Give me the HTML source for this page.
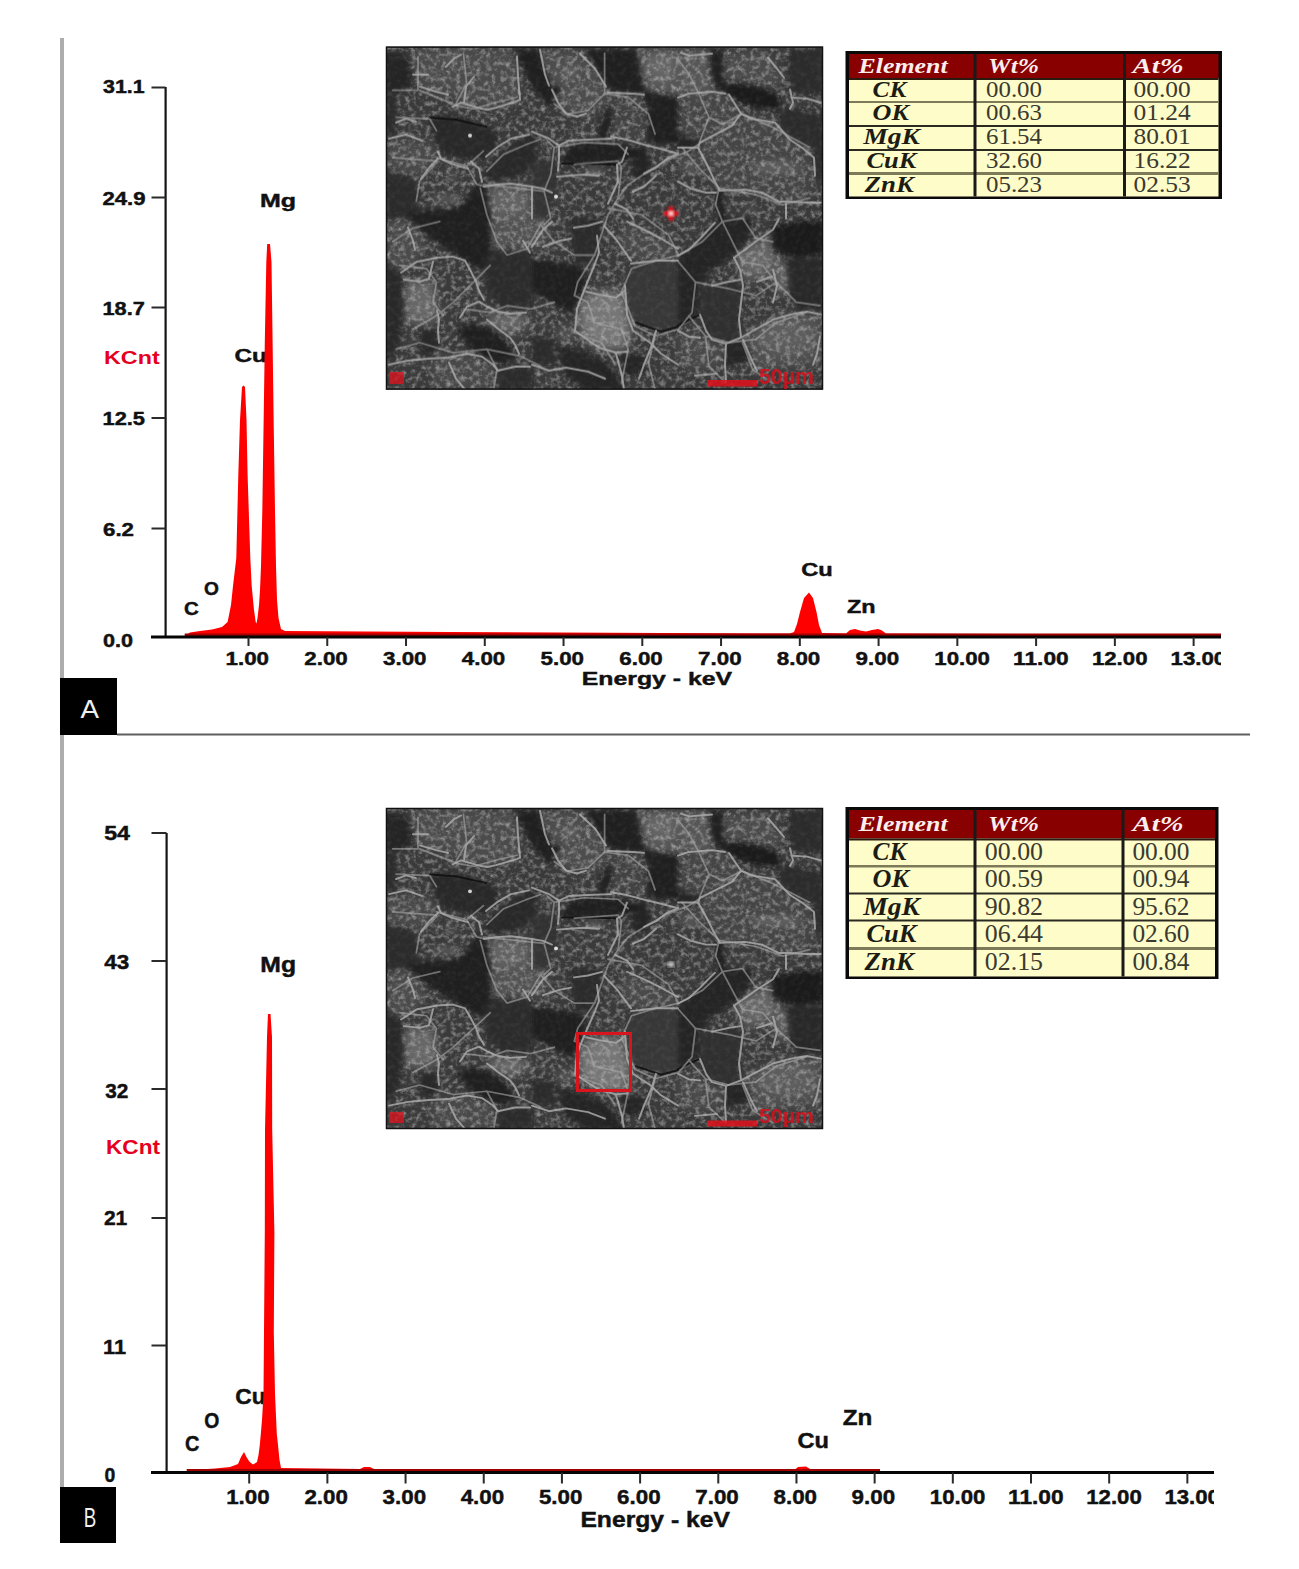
<!DOCTYPE html>
<html><head><meta charset="utf-8"><title>EDS spectra</title>
<style>
html,body{margin:0;padding:0;background:#fff;}
body{width:1299px;height:1569px;overflow:hidden;font-family:"Liberation Sans",sans-serif;}
svg{display:block;}
</style></head>
<body>
<svg width="1299" height="1569" viewBox="0 0 1299 1569">
<defs>
<filter id="sblur2" x="-5%" y="-5%" width="110%" height="110%"><feGaussianBlur stdDeviation="4"/></filter>
<filter id="sblur1" x="-5%" y="-5%" width="110%" height="110%"><feGaussianBlur stdDeviation="2.2"/></filter>
<filter id="sblur05" x="-5%" y="-5%" width="110%" height="110%"><feGaussianBlur stdDeviation="0.7"/></filter>
<filter id="snoise" x="0" y="0" width="437" height="343" filterUnits="userSpaceOnUse">
  <feTurbulence type="fractalNoise" baseFrequency="0.2" numOctaves="3" seed="5"/>
  <feColorMatrix type="matrix" values="0 0 0 0 1  0 0 0 0 1  0 0 0 0 1  2.2 0 0 0 -0.95"/>
  <feGaussianBlur stdDeviation="0.7"/>
</filter>
<filter id="rblur" x="-50%" y="-50%" width="200%" height="200%"><feGaussianBlur stdDeviation="0.8"/></filter></defs>
<rect x="0" y="0" width="1299" height="1569" fill="#fff"/>
<rect x="60" y="38" width="4" height="1505" fill="#adadad"/>
<rect x="60" y="678" width="57" height="57" fill="#000"/>
<rect x="117" y="733.5" width="1133" height="2" fill="#5e5e5e"/>
<rect x="60" y="1487" width="56" height="56" fill="#000"/>
<text x="80.5" y="717.7" font-family='"Liberation Sans", sans-serif' font-size="26" font-weight="normal" font-style="normal" fill="#f0f0f0" textLength="18.5" lengthAdjust="spacingAndGlyphs">A</text>
<text x="83.8" y="1527.4" font-family='"Liberation Sans", sans-serif' font-size="27.5" font-weight="normal" font-style="normal" fill="#f0f0f0" textLength="12.5" lengthAdjust="spacingAndGlyphs">B</text>
<text x="234.5" y="361.8" font-family='"Liberation Sans", sans-serif' font-size="19" font-weight="bold" font-style="normal" fill="#111" stroke="#111" stroke-width="0.45" textLength="32.3" lengthAdjust="spacingAndGlyphs">Cu</text>
<polygon points="184.7,636.0 190.0,632.5 200.0,631.0 212.0,629.5 222.0,627.0 227.6,622.0 231.0,605.0 233.0,586.0 236.3,558.0 238.3,475.0 240.0,420.0 242.0,387.0 243.6,385.5 245.0,387.0 246.5,420.0 247.6,475.0 250.3,558.0 251.7,586.0 254.0,610.0 255.7,622.0 256.5,623.5 257.5,618.0 259.0,605.0 260.0,590.0 261.0,566.0 262.3,511.0 263.5,430.0 264.8,342.0 266.3,262.0 267.2,244.0 270.0,244.0 271.5,262.0 272.6,342.0 273.8,430.0 275.0,511.0 276.0,566.0 277.0,600.0 278.5,618.0 281.0,629.0 285.0,631.0 450.0,632.0 790.0,633.5 794.0,632.0 797.0,624.0 800.0,612.0 804.0,598.0 809.0,592.5 813.0,598.0 816.5,612.0 819.0,625.0 822.0,633.0 846.0,633.5 850.0,630.0 855.0,629.0 860.0,630.5 866.0,631.5 872.0,630.0 878.0,629.0 882.0,630.5 886.0,633.5 1221.0,634.5 1221.0,637.0 184.7,637.0" fill="#ff0000"/>
<rect x="184.7" y="633.5" width="1036.3" height="2.5" fill="#a00000"/>
<rect x="164.5" y="87" width="2.2" height="551" fill="#151515"/>
<rect x="151.5" y="86.5" width="14.0" height="2" fill="#2a2a2a"/>
<rect x="151.5" y="196.5" width="14.0" height="2" fill="#2a2a2a"/>
<rect x="151.5" y="306.5" width="14.0" height="2" fill="#2a2a2a"/>
<rect x="151.5" y="417" width="14.0" height="2" fill="#2a2a2a"/>
<rect x="151.5" y="527.5" width="14.0" height="2" fill="#2a2a2a"/>
<rect x="151" y="635.5" width="1070" height="3" fill="#050505"/>
<text x="103.0" y="93.0" font-family='"Liberation Sans", sans-serif' font-size="18" font-weight="bold" font-style="normal" fill="#111" stroke="#111" stroke-width="0.45" textLength="41.6" lengthAdjust="spacingAndGlyphs">31.1</text>
<text x="102.5" y="205.0" font-family='"Liberation Sans", sans-serif' font-size="18" font-weight="bold" font-style="normal" fill="#111" stroke="#111" stroke-width="0.45" textLength="43.1" lengthAdjust="spacingAndGlyphs">24.9</text>
<text x="102.5" y="315.0" font-family='"Liberation Sans", sans-serif' font-size="18" font-weight="bold" font-style="normal" fill="#111" stroke="#111" stroke-width="0.45" textLength="42.3" lengthAdjust="spacingAndGlyphs">18.7</text>
<text x="102.5" y="424.6" font-family='"Liberation Sans", sans-serif' font-size="18" font-weight="bold" font-style="normal" fill="#111" stroke="#111" stroke-width="0.45" textLength="42.5" lengthAdjust="spacingAndGlyphs">12.5</text>
<text x="103.0" y="535.5" font-family='"Liberation Sans", sans-serif' font-size="18" font-weight="bold" font-style="normal" fill="#111" stroke="#111" stroke-width="0.45" textLength="31.0" lengthAdjust="spacingAndGlyphs">6.2</text>
<text x="103.0" y="647.0" font-family='"Liberation Sans", sans-serif' font-size="18" font-weight="bold" font-style="normal" fill="#111" stroke="#111" stroke-width="0.45" textLength="30.0" lengthAdjust="spacingAndGlyphs">0.0</text>
<rect x="247.5" y="637" width="2" height="9" fill="#2a2a2a"/>
<text x="225.5" y="664.6" font-family='"Liberation Sans", sans-serif' font-size="18" font-weight="bold" font-style="normal" fill="#111" stroke="#111" stroke-width="0.45" textLength="43.5" lengthAdjust="spacingAndGlyphs">1.00</text>
<rect x="326.26" y="637" width="2" height="9" fill="#2a2a2a"/>
<text x="304.3" y="664.6" font-family='"Liberation Sans", sans-serif' font-size="18" font-weight="bold" font-style="normal" fill="#111" stroke="#111" stroke-width="0.45" textLength="43.5" lengthAdjust="spacingAndGlyphs">2.00</text>
<rect x="405.02" y="637" width="2" height="9" fill="#2a2a2a"/>
<text x="383.0" y="664.6" font-family='"Liberation Sans", sans-serif' font-size="18" font-weight="bold" font-style="normal" fill="#111" stroke="#111" stroke-width="0.45" textLength="43.5" lengthAdjust="spacingAndGlyphs">3.00</text>
<rect x="483.78000000000003" y="637" width="2" height="9" fill="#2a2a2a"/>
<text x="461.8" y="664.6" font-family='"Liberation Sans", sans-serif' font-size="18" font-weight="bold" font-style="normal" fill="#111" stroke="#111" stroke-width="0.45" textLength="43.5" lengthAdjust="spacingAndGlyphs">4.00</text>
<rect x="562.54" y="637" width="2" height="9" fill="#2a2a2a"/>
<text x="540.5" y="664.6" font-family='"Liberation Sans", sans-serif' font-size="18" font-weight="bold" font-style="normal" fill="#111" stroke="#111" stroke-width="0.45" textLength="43.5" lengthAdjust="spacingAndGlyphs">5.00</text>
<rect x="641.3" y="637" width="2" height="9" fill="#2a2a2a"/>
<text x="619.3" y="664.6" font-family='"Liberation Sans", sans-serif' font-size="18" font-weight="bold" font-style="normal" fill="#111" stroke="#111" stroke-width="0.45" textLength="43.5" lengthAdjust="spacingAndGlyphs">6.00</text>
<rect x="720.0600000000001" y="637" width="2" height="9" fill="#2a2a2a"/>
<text x="698.1" y="664.6" font-family='"Liberation Sans", sans-serif' font-size="18" font-weight="bold" font-style="normal" fill="#111" stroke="#111" stroke-width="0.45" textLength="43.5" lengthAdjust="spacingAndGlyphs">7.00</text>
<rect x="798.82" y="637" width="2" height="9" fill="#2a2a2a"/>
<text x="776.8" y="664.6" font-family='"Liberation Sans", sans-serif' font-size="18" font-weight="bold" font-style="normal" fill="#111" stroke="#111" stroke-width="0.45" textLength="43.5" lengthAdjust="spacingAndGlyphs">8.00</text>
<rect x="877.58" y="637" width="2" height="9" fill="#2a2a2a"/>
<text x="855.6" y="664.6" font-family='"Liberation Sans", sans-serif' font-size="18" font-weight="bold" font-style="normal" fill="#111" stroke="#111" stroke-width="0.45" textLength="43.5" lengthAdjust="spacingAndGlyphs">9.00</text>
<rect x="956.34" y="637" width="2" height="9" fill="#2a2a2a"/>
<text x="934.3" y="664.6" font-family='"Liberation Sans", sans-serif' font-size="18" font-weight="bold" font-style="normal" fill="#111" stroke="#111" stroke-width="0.45" textLength="55.6" lengthAdjust="spacingAndGlyphs">10.00</text>
<rect x="1035.1" y="637" width="2" height="9" fill="#2a2a2a"/>
<text x="1013.1" y="664.6" font-family='"Liberation Sans", sans-serif' font-size="18" font-weight="bold" font-style="normal" fill="#111" stroke="#111" stroke-width="0.45" textLength="55.6" lengthAdjust="spacingAndGlyphs">11.00</text>
<rect x="1113.8600000000001" y="637" width="2" height="9" fill="#2a2a2a"/>
<text x="1091.9" y="664.6" font-family='"Liberation Sans", sans-serif' font-size="18" font-weight="bold" font-style="normal" fill="#111" stroke="#111" stroke-width="0.45" textLength="55.6" lengthAdjust="spacingAndGlyphs">12.00</text>
<rect x="1192.6200000000001" y="637" width="2" height="9" fill="#2a2a2a"/>
<svg x="0" y="0" width="1221" height="1569" overflow="hidden">
<text x="1170.6" y="664.6" font-family='"Liberation Sans", sans-serif' font-size="18" font-weight="bold" font-style="normal" fill="#111" stroke="#111" stroke-width="0.45" textLength="55.6" lengthAdjust="spacingAndGlyphs">13.00</text>
</svg>
<text x="581.8" y="685.0" font-family='"Liberation Sans", sans-serif' font-size="19" font-weight="bold" font-style="normal" fill="#111" stroke="#111" stroke-width="0.45" textLength="150.2" lengthAdjust="spacingAndGlyphs">Energy - keV</text>
<text x="104.0" y="364.0" font-family='"Liberation Sans", sans-serif' font-size="18" font-weight="bold" font-style="normal" fill="#e6001e" textLength="55.7" lengthAdjust="spacingAndGlyphs">KCnt</text>
<text x="260.0" y="207.0" font-family='"Liberation Sans", sans-serif' font-size="19" font-weight="bold" font-style="normal" fill="#111" stroke="#111" stroke-width="0.45" textLength="36.0" lengthAdjust="spacingAndGlyphs">Mg</text>
<text x="184.0" y="615.4" font-family='"Liberation Sans", sans-serif' font-size="19" font-weight="bold" font-style="normal" fill="#111" stroke="#111" stroke-width="0.45" textLength="14.8" lengthAdjust="spacingAndGlyphs">C</text>
<text x="204.0" y="595.3" font-family='"Liberation Sans", sans-serif' font-size="19" font-weight="bold" font-style="normal" fill="#111" stroke="#111" stroke-width="0.45" textLength="14.9" lengthAdjust="spacingAndGlyphs">O</text>
<text x="801.2" y="575.9" font-family='"Liberation Sans", sans-serif' font-size="19" font-weight="bold" font-style="normal" fill="#111" stroke="#111" stroke-width="0.45" textLength="31.5" lengthAdjust="spacingAndGlyphs">Cu</text>
<text x="847.0" y="613.3" font-family='"Liberation Sans", sans-serif' font-size="19" font-weight="bold" font-style="normal" fill="#111" stroke="#111" stroke-width="0.45" textLength="28.6" lengthAdjust="spacingAndGlyphs">Zn</text>
<text x="235.3" y="1404.0" font-family='"Liberation Sans", sans-serif' font-size="22" font-weight="bold" font-style="normal" fill="#111" stroke="#111" stroke-width="0.45" textLength="30.3" lengthAdjust="spacingAndGlyphs">Cu</text>
<polygon points="186.7,1472.0 200.0,1469.5 215.0,1468.5 230.0,1467.0 238.0,1464.0 241.0,1457.0 244.0,1452.0 247.0,1458.0 249.7,1462.0 253.0,1464.5 257.0,1462.0 258.5,1455.0 259.8,1445.0 260.8,1434.0 262.0,1420.0 263.5,1394.0 264.0,1332.0 264.8,1232.0 265.0,1130.0 267.0,1037.0 268.0,1014.0 270.5,1014.0 272.0,1037.0 272.2,1130.0 274.4,1232.0 273.8,1332.0 275.0,1394.0 276.8,1434.0 278.0,1445.0 279.5,1460.0 281.0,1468.0 360.0,1469.0 364.0,1467.0 370.0,1467.0 374.0,1469.0 795.0,1469.5 798.0,1467.0 806.0,1466.5 810.0,1469.0 880.0,1469.5 880.0,1472.0 186.7,1472.0" fill="#ff0000"/>
<rect x="186.7" y="1469.0" width="693.3" height="2.5" fill="#a00000"/>
<rect x="165.5" y="833" width="2.2" height="640.5" fill="#151515"/>
<rect x="151.5" y="832" width="15.0" height="2" fill="#2a2a2a"/>
<rect x="151.5" y="960" width="15.0" height="2" fill="#2a2a2a"/>
<rect x="151.5" y="1088" width="15.0" height="2" fill="#2a2a2a"/>
<rect x="151.5" y="1217" width="15.0" height="2" fill="#2a2a2a"/>
<rect x="151.5" y="1344.5" width="15.0" height="2" fill="#2a2a2a"/>
<rect x="151" y="1471.0" width="1063" height="3" fill="#050505"/>
<text x="104.2" y="840.0" font-family='"Liberation Sans", sans-serif' font-size="21" font-weight="bold" font-style="normal" fill="#111" stroke="#111" stroke-width="0.45" textLength="25.8" lengthAdjust="spacingAndGlyphs">54</text>
<text x="104.2" y="969.3" font-family='"Liberation Sans", sans-serif' font-size="21" font-weight="bold" font-style="normal" fill="#111" stroke="#111" stroke-width="0.45" textLength="25.0" lengthAdjust="spacingAndGlyphs">43</text>
<text x="105.2" y="1097.8" font-family='"Liberation Sans", sans-serif' font-size="21" font-weight="bold" font-style="normal" fill="#111" stroke="#111" stroke-width="0.45" textLength="23.1" lengthAdjust="spacingAndGlyphs">32</text>
<text x="103.9" y="1225.2" font-family='"Liberation Sans", sans-serif' font-size="21" font-weight="bold" font-style="normal" fill="#111" stroke="#111" stroke-width="0.45" textLength="23.4" lengthAdjust="spacingAndGlyphs">21</text>
<text x="103.0" y="1354.0" font-family='"Liberation Sans", sans-serif' font-size="21" font-weight="bold" font-style="normal" fill="#111" stroke="#111" stroke-width="0.45" textLength="23.0" lengthAdjust="spacingAndGlyphs">11</text>
<text x="104.6" y="1481.5" font-family='"Liberation Sans", sans-serif' font-size="21" font-weight="bold" font-style="normal" fill="#111" stroke="#111" stroke-width="0.45" textLength="10.8" lengthAdjust="spacingAndGlyphs">0</text>
<rect x="248.2" y="1472.5" width="2" height="11" fill="#2a2a2a"/>
<text x="226.2" y="1504.0" font-family='"Liberation Sans", sans-serif' font-size="21" font-weight="bold" font-style="normal" fill="#111" stroke="#111" stroke-width="0.45" textLength="43.5" lengthAdjust="spacingAndGlyphs">1.00</text>
<rect x="326.38" y="1472.5" width="2" height="11" fill="#2a2a2a"/>
<text x="304.4" y="1504.0" font-family='"Liberation Sans", sans-serif' font-size="21" font-weight="bold" font-style="normal" fill="#111" stroke="#111" stroke-width="0.45" textLength="43.5" lengthAdjust="spacingAndGlyphs">2.00</text>
<rect x="404.56" y="1472.5" width="2" height="11" fill="#2a2a2a"/>
<text x="382.6" y="1504.0" font-family='"Liberation Sans", sans-serif' font-size="21" font-weight="bold" font-style="normal" fill="#111" stroke="#111" stroke-width="0.45" textLength="43.5" lengthAdjust="spacingAndGlyphs">3.00</text>
<rect x="482.74" y="1472.5" width="2" height="11" fill="#2a2a2a"/>
<text x="460.7" y="1504.0" font-family='"Liberation Sans", sans-serif' font-size="21" font-weight="bold" font-style="normal" fill="#111" stroke="#111" stroke-width="0.45" textLength="43.5" lengthAdjust="spacingAndGlyphs">4.00</text>
<rect x="560.9200000000001" y="1472.5" width="2" height="11" fill="#2a2a2a"/>
<text x="538.9" y="1504.0" font-family='"Liberation Sans", sans-serif' font-size="21" font-weight="bold" font-style="normal" fill="#111" stroke="#111" stroke-width="0.45" textLength="43.5" lengthAdjust="spacingAndGlyphs">5.00</text>
<rect x="639.1" y="1472.5" width="2" height="11" fill="#2a2a2a"/>
<text x="617.1" y="1504.0" font-family='"Liberation Sans", sans-serif' font-size="21" font-weight="bold" font-style="normal" fill="#111" stroke="#111" stroke-width="0.45" textLength="43.5" lengthAdjust="spacingAndGlyphs">6.00</text>
<rect x="717.28" y="1472.5" width="2" height="11" fill="#2a2a2a"/>
<text x="695.3" y="1504.0" font-family='"Liberation Sans", sans-serif' font-size="21" font-weight="bold" font-style="normal" fill="#111" stroke="#111" stroke-width="0.45" textLength="43.5" lengthAdjust="spacingAndGlyphs">7.00</text>
<rect x="795.46" y="1472.5" width="2" height="11" fill="#2a2a2a"/>
<text x="773.5" y="1504.0" font-family='"Liberation Sans", sans-serif' font-size="21" font-weight="bold" font-style="normal" fill="#111" stroke="#111" stroke-width="0.45" textLength="43.5" lengthAdjust="spacingAndGlyphs">8.00</text>
<rect x="873.6400000000001" y="1472.5" width="2" height="11" fill="#2a2a2a"/>
<text x="851.6" y="1504.0" font-family='"Liberation Sans", sans-serif' font-size="21" font-weight="bold" font-style="normal" fill="#111" stroke="#111" stroke-width="0.45" textLength="43.5" lengthAdjust="spacingAndGlyphs">9.00</text>
<rect x="951.8200000000002" y="1472.5" width="2" height="11" fill="#2a2a2a"/>
<text x="929.8" y="1504.0" font-family='"Liberation Sans", sans-serif' font-size="21" font-weight="bold" font-style="normal" fill="#111" stroke="#111" stroke-width="0.45" textLength="55.6" lengthAdjust="spacingAndGlyphs">10.00</text>
<rect x="1030.0" y="1472.5" width="2" height="11" fill="#2a2a2a"/>
<text x="1008.0" y="1504.0" font-family='"Liberation Sans", sans-serif' font-size="21" font-weight="bold" font-style="normal" fill="#111" stroke="#111" stroke-width="0.45" textLength="55.6" lengthAdjust="spacingAndGlyphs">11.00</text>
<rect x="1108.18" y="1472.5" width="2" height="11" fill="#2a2a2a"/>
<text x="1086.2" y="1504.0" font-family='"Liberation Sans", sans-serif' font-size="21" font-weight="bold" font-style="normal" fill="#111" stroke="#111" stroke-width="0.45" textLength="55.6" lengthAdjust="spacingAndGlyphs">12.00</text>
<rect x="1186.3600000000001" y="1472.5" width="2" height="11" fill="#2a2a2a"/>
<svg x="0" y="0" width="1214" height="1569" overflow="hidden">
<text x="1164.4" y="1504.0" font-family='"Liberation Sans", sans-serif' font-size="21" font-weight="bold" font-style="normal" fill="#111" stroke="#111" stroke-width="0.45" textLength="55.6" lengthAdjust="spacingAndGlyphs">13.00</text>
</svg>
<text x="580.4" y="1527.1" font-family='"Liberation Sans", sans-serif' font-size="22" font-weight="bold" font-style="normal" fill="#111" stroke="#111" stroke-width="0.45" textLength="149.6" lengthAdjust="spacingAndGlyphs">Energy - keV</text>
<text x="106.0" y="1154.0" font-family='"Liberation Sans", sans-serif' font-size="21" font-weight="bold" font-style="normal" fill="#e6001e" textLength="54.0" lengthAdjust="spacingAndGlyphs">KCnt</text>
<text x="260.3" y="972.3" font-family='"Liberation Sans", sans-serif' font-size="22" font-weight="bold" font-style="normal" fill="#111" stroke="#111" stroke-width="0.45" textLength="35.7" lengthAdjust="spacingAndGlyphs">Mg</text>
<text x="185.1" y="1451.0" font-family='"Liberation Sans", sans-serif' font-size="22" font-weight="bold" font-style="normal" fill="#111" stroke="#111" stroke-width="0.45" textLength="14.4" lengthAdjust="spacingAndGlyphs">C</text>
<text x="204.3" y="1428.0" font-family='"Liberation Sans", sans-serif' font-size="22" font-weight="bold" font-style="normal" fill="#111" stroke="#111" stroke-width="0.45" textLength="15.1" lengthAdjust="spacingAndGlyphs">O</text>
<text x="797.6" y="1448.0" font-family='"Liberation Sans", sans-serif' font-size="22" font-weight="bold" font-style="normal" fill="#111" stroke="#111" stroke-width="0.45" textLength="31.4" lengthAdjust="spacingAndGlyphs">Cu</text>
<text x="842.8" y="1424.5" font-family='"Liberation Sans", sans-serif' font-size="22" font-weight="bold" font-style="normal" fill="#111" stroke="#111" stroke-width="0.45" textLength="29.6" lengthAdjust="spacingAndGlyphs">Zn</text>
<svg x="386" y="46.6" width="437" height="343" viewBox="0 0 437 343" preserveAspectRatio="none">
<rect x="0" y="0" width="437" height="343" fill="#3a3a3a"/>
<g filter="url(#sblur2)">
<polygon points="26,2 128,2 134,30 134,53 110,61 80,57 62,48 34,40 26,25" fill="#4c4c4c"/>
<polygon points="0,92 36,94 48,100 52,112 35,132 0,125" fill="#484848"/>
<polygon points="98,137 158,141 160,200 105,203 104,162" fill="#525252"/>
<polygon points="155,3 194,5 209,22 220,40 222,46 215,62 200,67 180,67 166,43 160,25" fill="#4e4e4e"/>
<polygon points="250,3 324,3 325,25 330,43 326,45 303,47 292,50 275,48 259,45 254,25" fill="#565656"/>
<polygon points="225,46 256,47 262,60 262,96 241,93 225,90 222,70" fill="#424242"/>
<polygon points="337,8 380,5 398,31 390,40 371,38 348,35 337,30" fill="#4c4c4c"/>
<polygon points="292,51 326,45 343,48 355,67 329,88 312,92 292,88" fill="#444"/>
<polygon points="355,67 389,76 404,93 428,111 429,129 421,156 393,155 359,143 334,144 321,118 312,101 329,88" fill="#454545"/>
<polygon points="0,172 28,172 34,183 39,200 31,215 15,226 0,217" fill="#4c4c4c"/>
<polygon points="18,233 34,235 43,232 51,240 53,273 45,280 20,278 15,255" fill="#545454"/>
<polygon points="101,267 140,266 146,280 124,291 112,282 101,273" fill="#545454"/>
<polygon points="43,312 81,307 107,318 112,343 50,343" fill="#4a4a4a"/>
<polygon points="200,245 239,244 241,268 247,284 241,305 213,301 197,290 191,262" fill="#666666"/>
<polygon points="231,194 245,214 270,214 292,214 292,202 275,192 258,183 241,178" fill="#4a4a4a"/>
<polygon points="348,211 359,203 371,194 387,183 393,190 391,220 386,230 371,235 357,239 354,223" fill="#545454"/>
<polygon points="387,215 404,213 404,250 391,245" fill="#525252"/>
<polygon points="355,291 371,282 387,273 404,268 421,265 437,268 437,315 427,318 371,324 365,312 357,293" fill="#505050"/>
<polygon points="292,284 314,291 326,293 339,300 339,318 320,325 292,320" fill="#4a4a4a"/>
</g>
<rect x="0" y="0" width="437" height="343" filter="url(#snoise)" opacity="0.42"/>
<g fill="#a8a8a8" filter="url(#sblur2)">
<ellipse cx="65" cy="130" rx="6" ry="4" opacity="0.32"/>
<ellipse cx="84" cy="90" rx="3" ry="2" opacity="0.32"/>
<ellipse cx="44" cy="26" rx="3" ry="3" opacity="0.32"/>
<ellipse cx="66" cy="12" rx="4" ry="4" opacity="0.32"/>
<ellipse cx="62" cy="153" rx="17" ry="4" opacity="0.32"/>
<ellipse cx="120" cy="156" rx="22" ry="14" opacity="0.19"/>
<ellipse cx="183" cy="26" rx="7" ry="5" opacity="0.32"/>
<ellipse cx="208" cy="123" rx="10" ry="4" opacity="0.32"/>
<ellipse cx="170" cy="151" rx="3" ry="3" opacity="0.32"/>
<ellipse cx="275" cy="20" rx="15" ry="15" opacity="0.19"/>
<ellipse cx="390" cy="121" rx="26" ry="6" opacity="0.29"/>
<ellipse cx="304" cy="119" rx="10" ry="9" opacity="0.26"/>
<ellipse cx="365" cy="163" rx="6" ry="3" opacity="0.32"/>
<ellipse cx="34" cy="256" rx="16" ry="20" opacity="0.22"/>
<ellipse cx="120" cy="275" rx="18" ry="7" opacity="0.26"/>
<ellipse cx="139" cy="240" rx="3" ry="3" opacity="0.32"/>
<ellipse cx="218" cy="275" rx="24" ry="28" opacity="0.26"/>
<ellipse cx="180" cy="287" rx="10" ry="8" opacity="0.22"/>
<ellipse cx="370" cy="212" rx="18" ry="16" opacity="0.22"/>
<ellipse cx="395" cy="232" rx="8" ry="15" opacity="0.19"/>
<ellipse cx="400" cy="290" rx="30" ry="18" opacity="0.16"/>
</g>
<g filter="url(#sblur1)" opacity="0.85">
<polygon points="0,6 20,8 26,25 24,42 12,46 0,44" fill="#222"/>
<polygon points="128,3 152,3 160,25 170,48 164,60 150,46 138,25" fill="#1c1c1c"/>
<polygon points="43,72 60,68 85,74 100,80 112,86 110,100 100,112 75,112 55,105 48,90" fill="#252525"/>
<polygon points="97,128 110,112 125,100 140,90 150,88 150,118 130,130 110,135" fill="#282828"/>
<polygon points="93,135 101,140 90,155 82,172 68,172 78,155" fill="#1c1c1c"/>
<polygon points="0,125 25,130 34,150 30,172 0,172" fill="#2a2a2a"/>
<polygon points="0,45 10,48 12,70 8,90 0,90" fill="#2a2a2a"/>
<polygon points="200,3 250,3 254,25 259,45 275,48 292,50 292,98 262,96 262,60 256,47 225,44 212,25" fill="#1e1e1e"/>
<polygon points="166,40 175,40 171,48" fill="#111"/>
<polygon points="175,118 183,101 197,97 219,96 241,99 258,101 262,108 252,112 238,113 229,118 202,117 185,119" fill="#1a1a1a"/>
<polygon points="212,92 215,75 222,60 226,62 224,80 220,92" fill="#1c1c1c"/>
<polygon points="245,112 262,108 266,120 258,135 247,130" fill="#242424"/>
<polygon points="146,112 172,115 172,140 160,172 146,172" fill="#303030"/>
<polygon points="324,3 337,3 337,40 330,43 325,25" fill="#1a1a1a"/>
<polygon points="330,38 348,37 371,40 390,47 395,56 391,63 371,61 355,56 343,48" fill="#181818"/>
<polygon points="404,3 437,3 437,45 420,48 407,45 402,25" fill="#2a2a2a"/>
<polygon points="391,63 404,62 427,67 427,101 404,93 395,78" fill="#2a2a2a"/>
<polygon points="427,67 437,67 437,135 429,129 427,101" fill="#2a2a2a"/>
<polygon points="292,88 312,92 312,101 292,101" fill="#242424"/>
<polygon points="329,144 337,144 339,172 330,172" fill="#1a1a1a"/>
<polygon points="21,166 48,163 68,162 80,155 93,137 101,140 104,162 105,203 97,224 83,217 62,203 42,189 28,178" fill="#1c1c1c"/>
<polygon points="97,224 105,203 146,205 146,262 120,262 104,252" fill="#2a2a2a"/>
<polygon points="70,282 85,277 105,282 120,295 130,310 120,318 100,312 82,300" fill="#1c1c1c"/>
<polygon points="0,217 15,226 18,260 12,300 0,318" fill="#282828"/>
<polygon points="34,282 51,284 53,296 45,311 34,305" fill="#282828"/>
<polygon points="112,324 129,320 146,320 146,343 112,343" fill="#2a2a2a"/>
<polygon points="146,214 168,215 191,219 200,225 197,245 189,262 185,268 168,257 157,251 146,245" fill="#1e1e1e"/>
<polygon points="245,219 270,215 292,216 292,280 275,284 253,275 242,267 239,239" fill="#383838"/>
<polygon points="146,290 168,292 170,318 146,318" fill="#2c2c2c"/>
<polygon points="170,300 200,305 225,320 240,343 200,343 180,330" fill="#242424"/>
<polygon points="234,307 258,310 258,325 240,329" fill="#202020"/>
<polygon points="185,172 216,172 213,206 209,217 191,219 185,195" fill="#2c2c2c"/>
<polygon points="331,172 365,172 365,189 348,209 326,223 314,239 312,267 292,279 292,209 303,203 314,192 329,176" fill="#202020"/>
<polygon points="385,180 420,174 437,176 437,208 410,210 387,205" fill="#151515"/>
<polygon points="400,211 437,210 437,262 415,265 404,250" fill="#252525"/>
<polygon points="326,239 355,233 357,239 355,256 353,273 355,290 340,297 326,293 320,284 314,268 314,245" fill="#2e2e2e"/>
<polygon points="340,297 357,293 365,312 350,318 340,318" fill="#202020"/>
</g>
<g fill="none" stroke="#0c0c0c" stroke-width="2" stroke-linejoin="round" stroke-linecap="round" opacity="0.8">
<polyline points="44,71 70,73 100,80"/>
<polyline points="250,276 275,285 292,280"/>
<polyline points="292,279 303,273 314,268"/>
<polyline points="176,117 200,117 229,118"/>
</g>
<g fill="none" stroke="#b0b0b0" stroke-width="2" stroke-linejoin="round" stroke-linecap="round" opacity="0.8" filter="url(#sblur05)">
<polyline points="34,40 50,45 62,48"/>
<polyline points="67,60 75,56 95,62 102,63 110,61 130,55 134,53"/>
<polyline points="78,57 80,40 88,30"/>
<polyline points="134,53 132,30 131,10"/>
<polyline points="10,76 20,72 30,75"/>
<polyline points="3,92 20,88 36,94"/>
<polyline points="52,105 55,112 65,117 82,122"/>
<polyline points="52,112 44,120 35,132"/>
<polyline points="100,110 112,100 125,92 143,88"/>
<polyline points="85,115 93,122 96,135"/>
<polyline points="98,140 110,138 125,137 146,140"/>
<polyline points="60,20 68,12 75,8"/>
<polyline points="27,28 42,28"/>
<polyline points="194,7 209,22 220,40"/>
<polyline points="222,46 247,47 258,48"/>
<polyline points="166,43 172,56 180,67 191,70 200,67"/>
<polyline points="146,85 163,92 173,99 183,94 202,93 225,92"/>
<polyline points="173,99 173,112 172,124"/>
<polyline points="225,90 241,93 258,98 270,101 292,107"/>
<polyline points="241,101 236,115 231,118 232,135 227,146 222,157"/>
<polyline points="258,127 270,121 281,112 292,107"/>
<polyline points="171,130 197,128 213,129"/>
<polyline points="270,129 258,140 247,145"/>
<polyline points="146,140 157,142 166,146"/>
<polyline points="229,157 241,163 247,172"/>
<polyline points="154,3 159,28 163,39"/>
<polyline points="292,51 303,47 326,45 339,47"/>
<polyline points="343,48 355,67 365,72 389,76 404,93 416,101 428,111 429,129"/>
<polyline points="355,67 346,79 329,88 314,96 312,101"/>
<polyline points="292,101 312,101"/>
<polyline points="312,101 321,118 329,135 334,144"/>
<polyline points="334,144 359,143 376,146 393,155 404,155 421,156 435,156"/>
<polyline points="292,135 305,142 320,146 330,146"/>
<polyline points="404,43 407,56 404,62"/>
<polyline points="407,51 421,52 435,56"/>
<polyline points="295,6 303,9 326,7"/>
<polyline points="382,11 391,22 398,31"/>
<polyline points="400,157 400,172"/>
<polyline points="15,226 31,215 37,214 51,211 67,210 79,214 85,225 90,235 93,244 98,253"/>
<polyline points="47,215 43,232 34,235 18,233"/>
<polyline points="22,181 27,194 29,203"/>
<polyline points="74,271 81,260 93,255 101,260 112,265 124,267 140,266"/>
<polyline points="101,273 112,282 124,291 129,298 133,307"/>
<polyline points="51,264 53,273 52,284 53,296"/>
<polyline points="43,312 62,311 81,307 96,310 107,318 112,324"/>
<polyline points="112,324 129,320 144,320"/>
<polyline points="3,318 22,314 43,312"/>
<polyline points="63,316 70,332 79,343"/>
<polyline points="137,194 144,206"/>
<polyline points="146,200 157,183 166,175"/>
<polyline points="157,200 174,194 185,192"/>
<polyline points="188,181 202,179 216,175"/>
<polyline points="211,189 213,206 209,217 200,239 191,262 189,284"/>
<polyline points="218,179 231,194 245,214"/>
<polyline points="241,175 258,183 275,192 292,202"/>
<polyline points="245,217 270,214 292,214"/>
<polyline points="200,245 213,248 230,251 239,244"/>
<polyline points="239,239 241,268 247,284 264,296 275,307 292,318"/>
<polyline points="189,284 197,290 213,301 230,306 241,305"/>
<polyline points="270,284 265,301 258,318 253,332"/>
<polyline points="146,318 163,324 180,321 202,325 219,332"/>
<polyline points="230,307 236,329 238,343"/>
<polyline points="329,176 314,192 303,203 292,209"/>
<polyline points="393,172 387,183 371,194 359,203 348,211"/>
<polyline points="348,211 354,223 357,239 355,256 353,273 355,290"/>
<polyline points="326,239 343,235 355,233"/>
<polyline points="371,235 386,230"/>
<polyline points="387,223 391,239 387,256"/>
<polyline points="314,268 320,284 326,293 340,297 355,291 371,282 387,273 404,268 421,265 436,268"/>
<polyline points="340,297 339,318 340,335"/>
<polyline points="357,293 365,312 371,324"/>
<polyline points="434,290 431,307 427,318"/>
<polyline points="292,284 303,290 314,291"/>
<polyline points="309,329 331,327"/>
<polyline points="146,140 146,172"/>
</g>
<g fill="none" stroke="#a8a8a8" stroke-width="1.8" stroke-linejoin="round" stroke-linecap="round" opacity="0.6" filter="url(#sblur05)">
<polyline points="32.0,10.1 32.0,43.7 6.7,43.7"/>
<polyline points="33.6,43.7 70.6,58.9"/>
<polyline points="77.4,6.7 80.7,37.0 69.0,58.9"/>
<polyline points="69.0,58.9 87.5,62.2 111.0,55.5 131.2,50.5"/>
<polyline points="10.1,70.6 43.7,72.3 50.5,84.1"/>
<polyline points="50.5,111.0 80.7,119.4 97.5,104.3"/>
<polyline points="6.7,111.0 50.5,114.4"/>
<polyline points="30.3,154.7 33.6,134.5 50.5,116.0"/>
<polyline points="80.7,119.4 90.8,137.9 97.5,139.6"/>
<polyline points="97.5,137.9 158.1,144.6"/>
<polyline points="158.1,144.6 164.8,171.5 158.1,178.3"/>
<polyline points="100.9,124.5 117.7,107.6 141.3,97.5 154.7,92.5"/>
<polyline points="161.5,94.2 168.2,100.9 164.8,127.8 158.1,144.6"/>
<polyline points="168.2,100.9 198.5,95.9 232.1,97.5 242.2,107.6"/>
<polyline points="168.2,57.2 181.6,67.3 201.8,63.9 218.6,47.1 218.6,6.7"/>
<polyline points="218.6,47.1 242.2,50.5 262.4,67.3 269.1,87.5"/>
<polyline points="188.4,117.7 232.1,114.4 235.5,121.1"/>
<polyline points="232.1,151.4 235.5,121.1"/>
<polyline points="215.3,188.4 222.0,168.2 232.1,151.4 242.2,137.9 262.4,124.5 279.2,114.4 302.7,104.3 312.8,97.5 322.9,70.6"/>
<polyline points="292.6,13.5 302.7,26.9 312.8,47.1 322.9,70.6"/>
<polyline points="322.9,70.6 336.4,77.4 356.5,67.3 386.8,80.7 423.8,100.9"/>
<polyline points="296.0,100.9 312.8,121.1 333.0,141.3 370.0,148.0 396.9,158.1 423.8,151.4"/>
<polyline points="333.0,141.3 329.6,158.1 336.4,174.9 356.5,215.3"/>
<polyline points="222.0,161.5 255.6,168.2 282.5,188.4 292.6,208.5"/>
<polyline points="292.6,208.5 316.2,195.1 336.4,174.9"/>
<polyline points="208.5,208.5 215.3,188.4"/>
<polyline points="154.7,178.3 168.2,195.1 188.4,208.5 208.5,208.5"/>
<polyline points="141.3,201.8 154.7,178.3"/>
<polyline points="111.0,195.1 121.1,208.5 141.3,201.8"/>
<polyline points="94.2,141.3 100.9,168.2 111.0,195.1"/>
<polyline points="336.4,174.9 356.5,171.5 370.0,191.7 386.8,195.1"/>
<polyline points="356.5,215.3 376.7,218.6 390.2,235.5 410.4,255.6 433.9,259.0"/>
<polyline points="292.6,208.5 265.7,215.3 245.5,222.0 235.5,245.5"/>
<polyline points="235.5,245.5 248.9,279.2 269.1,289.3 292.6,282.5 306.1,265.7 309.5,235.5 292.6,215.3"/>
<polyline points="309.5,235.5 343.1,242.2 370.0,248.9 390.2,235.5"/>
<polyline points="302.7,269.1 319.5,289.3 343.1,296.0 370.0,292.6 390.2,275.8 420.5,265.7"/>
<polyline points="319.5,289.3 322.9,319.5 339.7,336.4"/>
<polyline points="356.5,296.0 366.6,322.9 386.8,336.4"/>
<polyline points="188.4,248.9 201.8,255.6 208.5,275.8 235.5,282.5"/>
<polyline points="188.4,248.9 191.7,235.5 208.5,208.5"/>
<polyline points="188.4,285.9 215.3,296.0 228.7,316.2"/>
<polyline points="104.3,218.6 87.5,235.5 67.3,255.6 50.5,269.1 26.9,282.5"/>
<polyline points="13.5,218.6 40.4,222.0 50.5,235.5 47.1,255.6 57.2,269.1"/>
<polyline points="77.4,262.4 104.3,265.7 121.1,259.0 144.6,262.4 168.2,255.6"/>
<polyline points="67.3,306.1 100.9,302.7 134.5,309.5 154.7,319.5"/>
<polyline points="6.7,195.1 26.9,181.6 53.8,174.9"/>
<polyline points="10.1,302.7 33.6,296.0 67.3,306.1"/>
<polyline points="100.9,302.7 111.0,322.9 107.6,343.1"/>
<polyline points="235.5,282.5 242.2,302.7 235.5,336.4"/>
<polyline points="269.1,289.3 262.4,316.2 269.1,343.1"/>
</g>
<circle cx="285" cy="167" r="3" fill="#f0f0f0" filter="url(#sblur1)"/>
<circle cx="170" cy="150" r="2" fill="#e0e0e0" filter="url(#sblur05)"/>
<circle cx="84" cy="89" r="2" fill="#d0d0d0" filter="url(#sblur05)"/>
</svg>
<svg x="386" y="808" width="437" height="321" viewBox="0 0 437 343" preserveAspectRatio="none">
<rect x="0" y="0" width="437" height="343" fill="#3a3a3a"/>
<g filter="url(#sblur2)">
<polygon points="26,2 128,2 134,30 134,53 110,61 80,57 62,48 34,40 26,25" fill="#4c4c4c"/>
<polygon points="0,92 36,94 48,100 52,112 35,132 0,125" fill="#484848"/>
<polygon points="98,137 158,141 160,200 105,203 104,162" fill="#525252"/>
<polygon points="155,3 194,5 209,22 220,40 222,46 215,62 200,67 180,67 166,43 160,25" fill="#4e4e4e"/>
<polygon points="250,3 324,3 325,25 330,43 326,45 303,47 292,50 275,48 259,45 254,25" fill="#565656"/>
<polygon points="225,46 256,47 262,60 262,96 241,93 225,90 222,70" fill="#424242"/>
<polygon points="337,8 380,5 398,31 390,40 371,38 348,35 337,30" fill="#4c4c4c"/>
<polygon points="292,51 326,45 343,48 355,67 329,88 312,92 292,88" fill="#444"/>
<polygon points="355,67 389,76 404,93 428,111 429,129 421,156 393,155 359,143 334,144 321,118 312,101 329,88" fill="#454545"/>
<polygon points="0,172 28,172 34,183 39,200 31,215 15,226 0,217" fill="#4c4c4c"/>
<polygon points="18,233 34,235 43,232 51,240 53,273 45,280 20,278 15,255" fill="#545454"/>
<polygon points="101,267 140,266 146,280 124,291 112,282 101,273" fill="#545454"/>
<polygon points="43,312 81,307 107,318 112,343 50,343" fill="#4a4a4a"/>
<polygon points="200,245 239,244 241,268 247,284 241,305 213,301 197,290 191,262" fill="#666666"/>
<polygon points="231,194 245,214 270,214 292,214 292,202 275,192 258,183 241,178" fill="#4a4a4a"/>
<polygon points="348,211 359,203 371,194 387,183 393,190 391,220 386,230 371,235 357,239 354,223" fill="#545454"/>
<polygon points="387,215 404,213 404,250 391,245" fill="#525252"/>
<polygon points="355,291 371,282 387,273 404,268 421,265 437,268 437,315 427,318 371,324 365,312 357,293" fill="#505050"/>
<polygon points="292,284 314,291 326,293 339,300 339,318 320,325 292,320" fill="#4a4a4a"/>
</g>
<rect x="0" y="0" width="437" height="343" filter="url(#snoise)" opacity="0.42"/>
<g fill="#a8a8a8" filter="url(#sblur2)">
<ellipse cx="65" cy="130" rx="6" ry="4" opacity="0.32"/>
<ellipse cx="84" cy="90" rx="3" ry="2" opacity="0.32"/>
<ellipse cx="44" cy="26" rx="3" ry="3" opacity="0.32"/>
<ellipse cx="66" cy="12" rx="4" ry="4" opacity="0.32"/>
<ellipse cx="62" cy="153" rx="17" ry="4" opacity="0.32"/>
<ellipse cx="120" cy="156" rx="22" ry="14" opacity="0.19"/>
<ellipse cx="183" cy="26" rx="7" ry="5" opacity="0.32"/>
<ellipse cx="208" cy="123" rx="10" ry="4" opacity="0.32"/>
<ellipse cx="170" cy="151" rx="3" ry="3" opacity="0.32"/>
<ellipse cx="275" cy="20" rx="15" ry="15" opacity="0.19"/>
<ellipse cx="390" cy="121" rx="26" ry="6" opacity="0.29"/>
<ellipse cx="304" cy="119" rx="10" ry="9" opacity="0.26"/>
<ellipse cx="365" cy="163" rx="6" ry="3" opacity="0.32"/>
<ellipse cx="34" cy="256" rx="16" ry="20" opacity="0.22"/>
<ellipse cx="120" cy="275" rx="18" ry="7" opacity="0.26"/>
<ellipse cx="139" cy="240" rx="3" ry="3" opacity="0.32"/>
<ellipse cx="218" cy="275" rx="24" ry="28" opacity="0.26"/>
<ellipse cx="180" cy="287" rx="10" ry="8" opacity="0.22"/>
<ellipse cx="370" cy="212" rx="18" ry="16" opacity="0.22"/>
<ellipse cx="395" cy="232" rx="8" ry="15" opacity="0.19"/>
<ellipse cx="400" cy="290" rx="30" ry="18" opacity="0.16"/>
</g>
<g filter="url(#sblur1)" opacity="0.85">
<polygon points="0,6 20,8 26,25 24,42 12,46 0,44" fill="#222"/>
<polygon points="128,3 152,3 160,25 170,48 164,60 150,46 138,25" fill="#1c1c1c"/>
<polygon points="43,72 60,68 85,74 100,80 112,86 110,100 100,112 75,112 55,105 48,90" fill="#252525"/>
<polygon points="97,128 110,112 125,100 140,90 150,88 150,118 130,130 110,135" fill="#282828"/>
<polygon points="93,135 101,140 90,155 82,172 68,172 78,155" fill="#1c1c1c"/>
<polygon points="0,125 25,130 34,150 30,172 0,172" fill="#2a2a2a"/>
<polygon points="0,45 10,48 12,70 8,90 0,90" fill="#2a2a2a"/>
<polygon points="200,3 250,3 254,25 259,45 275,48 292,50 292,98 262,96 262,60 256,47 225,44 212,25" fill="#1e1e1e"/>
<polygon points="166,40 175,40 171,48" fill="#111"/>
<polygon points="175,118 183,101 197,97 219,96 241,99 258,101 262,108 252,112 238,113 229,118 202,117 185,119" fill="#1a1a1a"/>
<polygon points="212,92 215,75 222,60 226,62 224,80 220,92" fill="#1c1c1c"/>
<polygon points="245,112 262,108 266,120 258,135 247,130" fill="#242424"/>
<polygon points="146,112 172,115 172,140 160,172 146,172" fill="#303030"/>
<polygon points="324,3 337,3 337,40 330,43 325,25" fill="#1a1a1a"/>
<polygon points="330,38 348,37 371,40 390,47 395,56 391,63 371,61 355,56 343,48" fill="#181818"/>
<polygon points="404,3 437,3 437,45 420,48 407,45 402,25" fill="#2a2a2a"/>
<polygon points="391,63 404,62 427,67 427,101 404,93 395,78" fill="#2a2a2a"/>
<polygon points="427,67 437,67 437,135 429,129 427,101" fill="#2a2a2a"/>
<polygon points="292,88 312,92 312,101 292,101" fill="#242424"/>
<polygon points="329,144 337,144 339,172 330,172" fill="#1a1a1a"/>
<polygon points="21,166 48,163 68,162 80,155 93,137 101,140 104,162 105,203 97,224 83,217 62,203 42,189 28,178" fill="#1c1c1c"/>
<polygon points="97,224 105,203 146,205 146,262 120,262 104,252" fill="#2a2a2a"/>
<polygon points="70,282 85,277 105,282 120,295 130,310 120,318 100,312 82,300" fill="#1c1c1c"/>
<polygon points="0,217 15,226 18,260 12,300 0,318" fill="#282828"/>
<polygon points="34,282 51,284 53,296 45,311 34,305" fill="#282828"/>
<polygon points="112,324 129,320 146,320 146,343 112,343" fill="#2a2a2a"/>
<polygon points="146,214 168,215 191,219 200,225 197,245 189,262 185,268 168,257 157,251 146,245" fill="#1e1e1e"/>
<polygon points="245,219 270,215 292,216 292,280 275,284 253,275 242,267 239,239" fill="#383838"/>
<polygon points="146,290 168,292 170,318 146,318" fill="#2c2c2c"/>
<polygon points="170,300 200,305 225,320 240,343 200,343 180,330" fill="#242424"/>
<polygon points="234,307 258,310 258,325 240,329" fill="#202020"/>
<polygon points="185,172 216,172 213,206 209,217 191,219 185,195" fill="#2c2c2c"/>
<polygon points="331,172 365,172 365,189 348,209 326,223 314,239 312,267 292,279 292,209 303,203 314,192 329,176" fill="#202020"/>
<polygon points="385,180 420,174 437,176 437,208 410,210 387,205" fill="#151515"/>
<polygon points="400,211 437,210 437,262 415,265 404,250" fill="#252525"/>
<polygon points="326,239 355,233 357,239 355,256 353,273 355,290 340,297 326,293 320,284 314,268 314,245" fill="#2e2e2e"/>
<polygon points="340,297 357,293 365,312 350,318 340,318" fill="#202020"/>
</g>
<g fill="none" stroke="#0c0c0c" stroke-width="2" stroke-linejoin="round" stroke-linecap="round" opacity="0.8">
<polyline points="44,71 70,73 100,80"/>
<polyline points="250,276 275,285 292,280"/>
<polyline points="292,279 303,273 314,268"/>
<polyline points="176,117 200,117 229,118"/>
</g>
<g fill="none" stroke="#b0b0b0" stroke-width="2" stroke-linejoin="round" stroke-linecap="round" opacity="0.8" filter="url(#sblur05)">
<polyline points="34,40 50,45 62,48"/>
<polyline points="67,60 75,56 95,62 102,63 110,61 130,55 134,53"/>
<polyline points="78,57 80,40 88,30"/>
<polyline points="134,53 132,30 131,10"/>
<polyline points="10,76 20,72 30,75"/>
<polyline points="3,92 20,88 36,94"/>
<polyline points="52,105 55,112 65,117 82,122"/>
<polyline points="52,112 44,120 35,132"/>
<polyline points="100,110 112,100 125,92 143,88"/>
<polyline points="85,115 93,122 96,135"/>
<polyline points="98,140 110,138 125,137 146,140"/>
<polyline points="60,20 68,12 75,8"/>
<polyline points="27,28 42,28"/>
<polyline points="194,7 209,22 220,40"/>
<polyline points="222,46 247,47 258,48"/>
<polyline points="166,43 172,56 180,67 191,70 200,67"/>
<polyline points="146,85 163,92 173,99 183,94 202,93 225,92"/>
<polyline points="173,99 173,112 172,124"/>
<polyline points="225,90 241,93 258,98 270,101 292,107"/>
<polyline points="241,101 236,115 231,118 232,135 227,146 222,157"/>
<polyline points="258,127 270,121 281,112 292,107"/>
<polyline points="171,130 197,128 213,129"/>
<polyline points="270,129 258,140 247,145"/>
<polyline points="146,140 157,142 166,146"/>
<polyline points="229,157 241,163 247,172"/>
<polyline points="154,3 159,28 163,39"/>
<polyline points="292,51 303,47 326,45 339,47"/>
<polyline points="343,48 355,67 365,72 389,76 404,93 416,101 428,111 429,129"/>
<polyline points="355,67 346,79 329,88 314,96 312,101"/>
<polyline points="292,101 312,101"/>
<polyline points="312,101 321,118 329,135 334,144"/>
<polyline points="334,144 359,143 376,146 393,155 404,155 421,156 435,156"/>
<polyline points="292,135 305,142 320,146 330,146"/>
<polyline points="404,43 407,56 404,62"/>
<polyline points="407,51 421,52 435,56"/>
<polyline points="295,6 303,9 326,7"/>
<polyline points="382,11 391,22 398,31"/>
<polyline points="400,157 400,172"/>
<polyline points="15,226 31,215 37,214 51,211 67,210 79,214 85,225 90,235 93,244 98,253"/>
<polyline points="47,215 43,232 34,235 18,233"/>
<polyline points="22,181 27,194 29,203"/>
<polyline points="74,271 81,260 93,255 101,260 112,265 124,267 140,266"/>
<polyline points="101,273 112,282 124,291 129,298 133,307"/>
<polyline points="51,264 53,273 52,284 53,296"/>
<polyline points="43,312 62,311 81,307 96,310 107,318 112,324"/>
<polyline points="112,324 129,320 144,320"/>
<polyline points="3,318 22,314 43,312"/>
<polyline points="63,316 70,332 79,343"/>
<polyline points="137,194 144,206"/>
<polyline points="146,200 157,183 166,175"/>
<polyline points="157,200 174,194 185,192"/>
<polyline points="188,181 202,179 216,175"/>
<polyline points="211,189 213,206 209,217 200,239 191,262 189,284"/>
<polyline points="218,179 231,194 245,214"/>
<polyline points="241,175 258,183 275,192 292,202"/>
<polyline points="245,217 270,214 292,214"/>
<polyline points="200,245 213,248 230,251 239,244"/>
<polyline points="239,239 241,268 247,284 264,296 275,307 292,318"/>
<polyline points="189,284 197,290 213,301 230,306 241,305"/>
<polyline points="270,284 265,301 258,318 253,332"/>
<polyline points="146,318 163,324 180,321 202,325 219,332"/>
<polyline points="230,307 236,329 238,343"/>
<polyline points="329,176 314,192 303,203 292,209"/>
<polyline points="393,172 387,183 371,194 359,203 348,211"/>
<polyline points="348,211 354,223 357,239 355,256 353,273 355,290"/>
<polyline points="326,239 343,235 355,233"/>
<polyline points="371,235 386,230"/>
<polyline points="387,223 391,239 387,256"/>
<polyline points="314,268 320,284 326,293 340,297 355,291 371,282 387,273 404,268 421,265 436,268"/>
<polyline points="340,297 339,318 340,335"/>
<polyline points="357,293 365,312 371,324"/>
<polyline points="434,290 431,307 427,318"/>
<polyline points="292,284 303,290 314,291"/>
<polyline points="309,329 331,327"/>
<polyline points="146,140 146,172"/>
</g>
<g fill="none" stroke="#a8a8a8" stroke-width="1.8" stroke-linejoin="round" stroke-linecap="round" opacity="0.6" filter="url(#sblur05)">
<polyline points="32.0,10.1 32.0,43.7 6.7,43.7"/>
<polyline points="33.6,43.7 70.6,58.9"/>
<polyline points="77.4,6.7 80.7,37.0 69.0,58.9"/>
<polyline points="69.0,58.9 87.5,62.2 111.0,55.5 131.2,50.5"/>
<polyline points="10.1,70.6 43.7,72.3 50.5,84.1"/>
<polyline points="50.5,111.0 80.7,119.4 97.5,104.3"/>
<polyline points="6.7,111.0 50.5,114.4"/>
<polyline points="30.3,154.7 33.6,134.5 50.5,116.0"/>
<polyline points="80.7,119.4 90.8,137.9 97.5,139.6"/>
<polyline points="97.5,137.9 158.1,144.6"/>
<polyline points="158.1,144.6 164.8,171.5 158.1,178.3"/>
<polyline points="100.9,124.5 117.7,107.6 141.3,97.5 154.7,92.5"/>
<polyline points="161.5,94.2 168.2,100.9 164.8,127.8 158.1,144.6"/>
<polyline points="168.2,100.9 198.5,95.9 232.1,97.5 242.2,107.6"/>
<polyline points="168.2,57.2 181.6,67.3 201.8,63.9 218.6,47.1 218.6,6.7"/>
<polyline points="218.6,47.1 242.2,50.5 262.4,67.3 269.1,87.5"/>
<polyline points="188.4,117.7 232.1,114.4 235.5,121.1"/>
<polyline points="232.1,151.4 235.5,121.1"/>
<polyline points="215.3,188.4 222.0,168.2 232.1,151.4 242.2,137.9 262.4,124.5 279.2,114.4 302.7,104.3 312.8,97.5 322.9,70.6"/>
<polyline points="292.6,13.5 302.7,26.9 312.8,47.1 322.9,70.6"/>
<polyline points="322.9,70.6 336.4,77.4 356.5,67.3 386.8,80.7 423.8,100.9"/>
<polyline points="296.0,100.9 312.8,121.1 333.0,141.3 370.0,148.0 396.9,158.1 423.8,151.4"/>
<polyline points="333.0,141.3 329.6,158.1 336.4,174.9 356.5,215.3"/>
<polyline points="222.0,161.5 255.6,168.2 282.5,188.4 292.6,208.5"/>
<polyline points="292.6,208.5 316.2,195.1 336.4,174.9"/>
<polyline points="208.5,208.5 215.3,188.4"/>
<polyline points="154.7,178.3 168.2,195.1 188.4,208.5 208.5,208.5"/>
<polyline points="141.3,201.8 154.7,178.3"/>
<polyline points="111.0,195.1 121.1,208.5 141.3,201.8"/>
<polyline points="94.2,141.3 100.9,168.2 111.0,195.1"/>
<polyline points="336.4,174.9 356.5,171.5 370.0,191.7 386.8,195.1"/>
<polyline points="356.5,215.3 376.7,218.6 390.2,235.5 410.4,255.6 433.9,259.0"/>
<polyline points="292.6,208.5 265.7,215.3 245.5,222.0 235.5,245.5"/>
<polyline points="235.5,245.5 248.9,279.2 269.1,289.3 292.6,282.5 306.1,265.7 309.5,235.5 292.6,215.3"/>
<polyline points="309.5,235.5 343.1,242.2 370.0,248.9 390.2,235.5"/>
<polyline points="302.7,269.1 319.5,289.3 343.1,296.0 370.0,292.6 390.2,275.8 420.5,265.7"/>
<polyline points="319.5,289.3 322.9,319.5 339.7,336.4"/>
<polyline points="356.5,296.0 366.6,322.9 386.8,336.4"/>
<polyline points="188.4,248.9 201.8,255.6 208.5,275.8 235.5,282.5"/>
<polyline points="188.4,248.9 191.7,235.5 208.5,208.5"/>
<polyline points="188.4,285.9 215.3,296.0 228.7,316.2"/>
<polyline points="104.3,218.6 87.5,235.5 67.3,255.6 50.5,269.1 26.9,282.5"/>
<polyline points="13.5,218.6 40.4,222.0 50.5,235.5 47.1,255.6 57.2,269.1"/>
<polyline points="77.4,262.4 104.3,265.7 121.1,259.0 144.6,262.4 168.2,255.6"/>
<polyline points="67.3,306.1 100.9,302.7 134.5,309.5 154.7,319.5"/>
<polyline points="6.7,195.1 26.9,181.6 53.8,174.9"/>
<polyline points="10.1,302.7 33.6,296.0 67.3,306.1"/>
<polyline points="100.9,302.7 111.0,322.9 107.6,343.1"/>
<polyline points="235.5,282.5 242.2,302.7 235.5,336.4"/>
<polyline points="269.1,289.3 262.4,316.2 269.1,343.1"/>
</g>
<circle cx="285" cy="167" r="3" fill="#f0f0f0" filter="url(#sblur1)"/>
<circle cx="170" cy="150" r="2" fill="#e0e0e0" filter="url(#sblur05)"/>
<circle cx="84" cy="89" r="2" fill="#d0d0d0" filter="url(#sblur05)"/>
</svg>
<rect x="386.5" y="47.1" width="436" height="342" fill="none" stroke="#111" stroke-width="1.5"/>
<rect x="386.5" y="808.5" width="436" height="320" fill="none" stroke="#111" stroke-width="1.5"/>
<g fill="#e0101c">
<g filter="url(#rblur)"><rect x="664" y="211" width="14" height="5"/><rect x="668.5" y="206.5" width="5" height="14"/><rect x="669" y="211.5" width="4" height="4" fill="#ffd0d0"/></g>
<rect x="707" y="380" width="50" height="6.5" opacity="0.85"/>
<rect x="707" y="1120.5" width="50" height="6" opacity="0.85"/>
<rect x="389" y="372" width="15" height="12" opacity="0.75"/>
<rect x="389" y="1112" width="15" height="11" opacity="0.75"/>
</g>
<text x="759.0" y="383.5" font-family='"Liberation Sans", sans-serif' font-size="22" font-weight="bold" font-style="normal" fill="#d8101c" textLength="55.0" lengthAdjust="spacingAndGlyphs" opacity="0.85">50µm</text>
<text x="759.0" y="1122.5" font-family='"Liberation Sans", sans-serif' font-size="21" font-weight="bold" font-style="normal" fill="#d8101c" textLength="55.0" lengthAdjust="spacingAndGlyphs" opacity="0.85">50µm</text>
<rect x="577.5" y="1033.5" width="53" height="57" fill="none" stroke="#d8141c" stroke-width="3"/>
<rect x="845.5" y="51" width="376.5" height="148" fill="#0a0a0a"/>
<rect x="849.0" y="54" width="369.5" height="24" fill="#880000"/>
<rect x="849.0" y="78" width="369.5" height="118.5" fill="#fefcc8"/>
<rect x="849.0" y="78" width="369.5" height="2" fill="#2a1a10"/>
<rect x="849.0" y="101" width="369.5" height="2" fill="#7c7a58"/>
<rect x="849.0" y="125" width="369.5" height="2" fill="#2b2a22"/>
<rect x="849.0" y="149" width="369.5" height="2" fill="#2b2a22"/>
<rect x="849.0" y="172" width="369.5" height="3" fill="#7c7a58"/>
<rect x="973.5" y="54" width="3" height="142.5" fill="#1a1a1a"/>
<rect x="1123" y="54" width="3" height="142.5" fill="#1a1a1a"/>
<text x="858.4" y="73.3" font-family='"Liberation Serif", serif' font-size="21" font-weight="bold" font-style="italic" fill="#fbeeee" textLength="89.3" lengthAdjust="spacingAndGlyphs">Element</text>
<text x="988.0" y="73.3" font-family='"Liberation Serif", serif' font-size="21" font-weight="bold" font-style="italic" fill="#fbeeee" textLength="51.0" lengthAdjust="spacingAndGlyphs">Wt%</text>
<text x="1132.6" y="73.3" font-family='"Liberation Serif", serif' font-size="21" font-weight="bold" font-style="italic" fill="#fbeeee" textLength="50.9" lengthAdjust="spacingAndGlyphs">At%</text>
<text x="872.6" y="97.0" font-family='"Liberation Serif", serif' font-size="23" font-weight="bold" font-style="italic" fill="#1c1c14" textLength="33.8" lengthAdjust="spacingAndGlyphs">CK</text>
<text x="986.0" y="97.0" font-family='"Liberation Serif", serif' font-size="23" font-weight="normal" font-style="normal" fill="#3a3a30" textLength="56.0" lengthAdjust="spacingAndGlyphs">00.00</text>
<text x="1133.6" y="97.0" font-family='"Liberation Serif", serif' font-size="23" font-weight="normal" font-style="normal" fill="#3a3a30" textLength="57.2" lengthAdjust="spacingAndGlyphs">00.00</text>
<text x="872.6" y="120.3" font-family='"Liberation Serif", serif' font-size="23" font-weight="bold" font-style="italic" fill="#1c1c14" textLength="36.3" lengthAdjust="spacingAndGlyphs">OK</text>
<text x="986.0" y="120.3" font-family='"Liberation Serif", serif' font-size="23" font-weight="normal" font-style="normal" fill="#3a3a30" textLength="56.0" lengthAdjust="spacingAndGlyphs">00.63</text>
<text x="1133.6" y="120.3" font-family='"Liberation Serif", serif' font-size="23" font-weight="normal" font-style="normal" fill="#3a3a30" textLength="57.2" lengthAdjust="spacingAndGlyphs">01.24</text>
<text x="863.3" y="144.3" font-family='"Liberation Serif", serif' font-size="23" font-weight="bold" font-style="italic" fill="#1c1c14" textLength="56.7" lengthAdjust="spacingAndGlyphs">MgK</text>
<text x="986.0" y="144.3" font-family='"Liberation Serif", serif' font-size="23" font-weight="normal" font-style="normal" fill="#3a3a30" textLength="56.0" lengthAdjust="spacingAndGlyphs">61.54</text>
<text x="1133.6" y="144.3" font-family='"Liberation Serif", serif' font-size="23" font-weight="normal" font-style="normal" fill="#3a3a30" textLength="57.2" lengthAdjust="spacingAndGlyphs">80.01</text>
<text x="866.4" y="168.3" font-family='"Liberation Serif", serif' font-size="23" font-weight="bold" font-style="italic" fill="#1c1c14" textLength="49.9" lengthAdjust="spacingAndGlyphs">CuK</text>
<text x="986.0" y="168.3" font-family='"Liberation Serif", serif' font-size="23" font-weight="normal" font-style="normal" fill="#3a3a30" textLength="56.0" lengthAdjust="spacingAndGlyphs">32.60</text>
<text x="1133.6" y="168.3" font-family='"Liberation Serif", serif' font-size="23" font-weight="normal" font-style="normal" fill="#3a3a30" textLength="57.2" lengthAdjust="spacingAndGlyphs">16.22</text>
<text x="864.6" y="192.4" font-family='"Liberation Serif", serif' font-size="23" font-weight="bold" font-style="italic" fill="#1c1c14" textLength="49.2" lengthAdjust="spacingAndGlyphs">ZnK</text>
<text x="986.0" y="192.4" font-family='"Liberation Serif", serif' font-size="23" font-weight="normal" font-style="normal" fill="#3a3a30" textLength="56.0" lengthAdjust="spacingAndGlyphs">05.23</text>
<text x="1133.6" y="192.4" font-family='"Liberation Serif", serif' font-size="23" font-weight="normal" font-style="normal" fill="#3a3a30" textLength="57.2" lengthAdjust="spacingAndGlyphs">02.53</text>
<rect x="845.5" y="807" width="373.0" height="172" fill="#0a0a0a"/>
<rect x="849.0" y="810" width="366.0" height="28.5" fill="#880000"/>
<rect x="849.0" y="838.5" width="366.0" height="138.0" fill="#fefcc8"/>
<rect x="849.0" y="838.5" width="366.0" height="2" fill="#2a1a10"/>
<rect x="849.0" y="865" width="366.0" height="2.5" fill="#7c7a58"/>
<rect x="849.0" y="892.5" width="366.0" height="2" fill="#2b2a22"/>
<rect x="849.0" y="919.5" width="366.0" height="2" fill="#2b2a22"/>
<rect x="849.0" y="947" width="366.0" height="3" fill="#7c7a58"/>
<rect x="973.5" y="810" width="3" height="166.5" fill="#1a1a1a"/>
<rect x="1121.5" y="810" width="3" height="166.5" fill="#1a1a1a"/>
<text x="858.4" y="831.3" font-family='"Liberation Serif", serif' font-size="22" font-weight="bold" font-style="italic" fill="#fbeeee" textLength="89.3" lengthAdjust="spacingAndGlyphs">Element</text>
<text x="988.0" y="831.3" font-family='"Liberation Serif", serif' font-size="22" font-weight="bold" font-style="italic" fill="#fbeeee" textLength="51.0" lengthAdjust="spacingAndGlyphs">Wt%</text>
<text x="1132.6" y="831.3" font-family='"Liberation Serif", serif' font-size="22" font-weight="bold" font-style="italic" fill="#fbeeee" textLength="50.9" lengthAdjust="spacingAndGlyphs">At%</text>
<text x="872.6" y="860.0" font-family='"Liberation Serif", serif' font-size="25" font-weight="bold" font-style="italic" fill="#1c1c14" textLength="33.8" lengthAdjust="spacingAndGlyphs">CK</text>
<text x="984.8" y="860.0" font-family='"Liberation Serif", serif' font-size="25" font-weight="normal" font-style="normal" fill="#3a3a30" textLength="58.2" lengthAdjust="spacingAndGlyphs">00.00</text>
<text x="1132.4" y="860.0" font-family='"Liberation Serif", serif' font-size="25" font-weight="normal" font-style="normal" fill="#3a3a30" textLength="57.1" lengthAdjust="spacingAndGlyphs">00.00</text>
<text x="872.6" y="887.0" font-family='"Liberation Serif", serif' font-size="25" font-weight="bold" font-style="italic" fill="#1c1c14" textLength="36.3" lengthAdjust="spacingAndGlyphs">OK</text>
<text x="984.8" y="887.0" font-family='"Liberation Serif", serif' font-size="25" font-weight="normal" font-style="normal" fill="#3a3a30" textLength="58.2" lengthAdjust="spacingAndGlyphs">00.59</text>
<text x="1132.4" y="887.0" font-family='"Liberation Serif", serif' font-size="25" font-weight="normal" font-style="normal" fill="#3a3a30" textLength="57.1" lengthAdjust="spacingAndGlyphs">00.94</text>
<text x="863.3" y="914.5" font-family='"Liberation Serif", serif' font-size="25" font-weight="bold" font-style="italic" fill="#1c1c14" textLength="56.7" lengthAdjust="spacingAndGlyphs">MgK</text>
<text x="984.8" y="914.5" font-family='"Liberation Serif", serif' font-size="25" font-weight="normal" font-style="normal" fill="#3a3a30" textLength="58.2" lengthAdjust="spacingAndGlyphs">90.82</text>
<text x="1132.4" y="914.5" font-family='"Liberation Serif", serif' font-size="25" font-weight="normal" font-style="normal" fill="#3a3a30" textLength="57.1" lengthAdjust="spacingAndGlyphs">95.62</text>
<text x="866.4" y="941.5" font-family='"Liberation Serif", serif' font-size="25" font-weight="bold" font-style="italic" fill="#1c1c14" textLength="49.9" lengthAdjust="spacingAndGlyphs">CuK</text>
<text x="984.8" y="941.5" font-family='"Liberation Serif", serif' font-size="25" font-weight="normal" font-style="normal" fill="#3a3a30" textLength="58.2" lengthAdjust="spacingAndGlyphs">06.44</text>
<text x="1132.4" y="941.5" font-family='"Liberation Serif", serif' font-size="25" font-weight="normal" font-style="normal" fill="#3a3a30" textLength="57.1" lengthAdjust="spacingAndGlyphs">02.60</text>
<text x="864.6" y="969.5" font-family='"Liberation Serif", serif' font-size="25" font-weight="bold" font-style="italic" fill="#1c1c14" textLength="49.2" lengthAdjust="spacingAndGlyphs">ZnK</text>
<text x="984.8" y="969.5" font-family='"Liberation Serif", serif' font-size="25" font-weight="normal" font-style="normal" fill="#3a3a30" textLength="58.2" lengthAdjust="spacingAndGlyphs">02.15</text>
<text x="1132.4" y="969.5" font-family='"Liberation Serif", serif' font-size="25" font-weight="normal" font-style="normal" fill="#3a3a30" textLength="57.1" lengthAdjust="spacingAndGlyphs">00.84</text>
</svg>
</body></html>
